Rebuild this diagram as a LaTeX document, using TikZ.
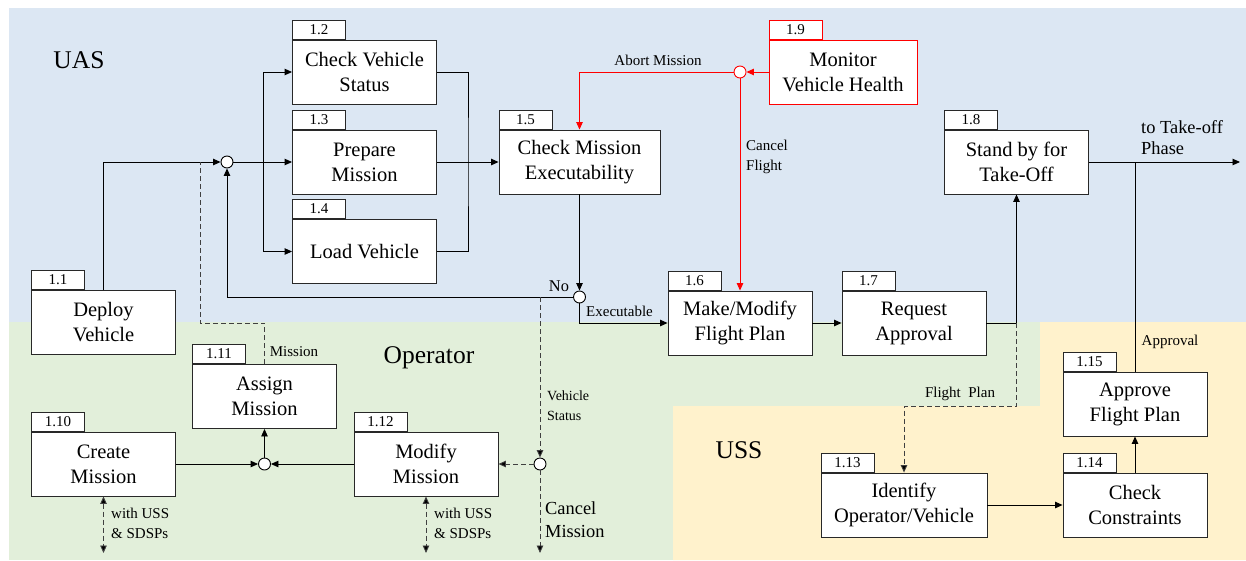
\documentclass[tikz,border=0pt]{standalone}
\usepackage{fontspec}
\setmainfont{Liberation Serif}
\usetikzlibrary{arrows.meta}

\definecolor{uasbg}{RGB}{220,231,243}
\definecolor{opbg}{RGB}{226,239,218}
\definecolor{ussbg}{RGB}{255,242,204}
\definecolor{edge}{RGB}{40,40,40}

\tikzset{
  fnbox/.style={draw=edge, fill=white, line width=0.9pt, inner sep=0pt,
    minimum width=144pt, minimum height=64pt, align=center,
    font=\fontsize{20.5}{25}\selectfont},
  numtab/.style={draw=edge, fill=white, line width=0.9pt, inner sep=0pt,
    minimum width=53pt, minimum height=19pt, anchor=south west,
    font=\fontsize{15}{15}\selectfont},
  junc/.style={circle, draw=black, fill=white, line width=0.9pt,
    inner sep=0pt, minimum size=12pt},
  tip/.style={-{Triangle[length=7.5pt,width=6.5pt]}},
  wire/.style={line width=0.9pt, draw=black},
  flow/.style={wire, tip},
  dwire/.style={line width=0.9pt, draw=black!75, dash pattern=on 5pt off 3pt},
  dflow/.style={dwire, -{Triangle[length=7.5pt,width=6.5pt,fill=black]}},
  dboth/.style={dwire, {Triangle[length=7.5pt,width=6.5pt,fill=black]}-{Triangle[length=7.5pt,width=6.5pt,fill=black]}},
  rflow/.style={line width=0.9pt, draw=red, -{Triangle[length=7.5pt,width=6.5pt]}},
  region/.style={inner sep=0pt, font=\fontsize{25.5}{30}\selectfont},
  lbl/.style={inner sep=0pt, font=\fontsize{15}{20}\selectfont, align=left},
  biglbl/.style={inner sep=0pt, font=\fontsize{18.4}{22}\selectfont, align=left},
}

\begin{document}
\begin{tikzpicture}[x=1pt, y=-1pt]
\useasboundingbox (0,0) rectangle (1246,560);

% swimlane backgrounds
\fill[uasbg] (9,8) rectangle (1246,322);
\fill[opbg] (9,322) rectangle (1246,560);
\fill[ussbg] (1040,322) -- (1246,322) -- (1246,560) -- (673,560)
  -- (673,406) -- (1040,406) -- cycle;

\node[region] (uas) at (79,60) {UAS};
\node[region] (oper) at (429,358) {Operator};
\node[region] (uss) at (739,450) {USS};

% function boxes
\node[fnbox] (n11) at (103.5,322.5) {Deploy\\Vehicle};
\node[fnbox] (n12) at (364.5,72) {Check Vehicle\\Status};
\node[fnbox] (n13) at (364.5,162) {Prepare\\Mission};
\node[fnbox] (n14) at (364.5,251.5) {Load Vehicle};
\node[fnbox, minimum width=161pt] (n15) at (579.5,162) {Check Mission\\Executability};
\node[fnbox] (n16) at (740,323) {Make/Modify\\Flight Plan};
\node[fnbox] (n17) at (914,323) {Request\\Approval};
\node[fnbox] (n18) at (1016.5,162) {Stand by for\\Take-Off};
\node[fnbox, draw=red, minimum width=148pt] (n19) at (843,72) {Monitor\\Vehicle Health};
\node[fnbox] (n110) at (103.5,464) {Create\\Mission};
\node[fnbox] (n111) at (264.5,396.5) {Assign\\Mission};
\node[fnbox] (n112) at (426,464) {Modify\\Mission};
\node[fnbox, minimum width=166pt] (n113) at (904,505) {Identify\\Operator/Vehicle};
\node[fnbox] (n114) at (1135,505) {Check\\Constraints};
\node[fnbox] (n115) at (1135,404) {Approve\\Flight Plan};

% number tabs
\node[numtab] (t11) at (n11.north west) {1.1};
\node[numtab] (t12) at (n12.north west) {1.2};
\node[numtab] (t13) at (n13.north west) {1.3};
\node[numtab] (t14) at (n14.north west) {1.4};
\node[numtab] (t15) at (n15.north west) {1.5};
\node[numtab] (t16) at (n16.north west) {1.6};
\node[numtab] (t17) at (n17.north west) {1.7};
\node[numtab] (t18) at (n18.north west) {1.8};
\node[numtab, draw=red] (t19) at (n19.north west) {1.9};
\node[numtab] (t110) at (n110.north west) {1.10};
\node[numtab] (t111) at (n111.north west) {1.11};
\node[numtab] (t112) at (n112.north west) {1.12};
\node[numtab] (t113) at (n113.north west) {1.13};
\node[numtab] (t114) at (n114.north west) {1.14};
\node[numtab] (t115) at (n115.north west) {1.15};

% junctions
\node[junc] (j1) at (227,162) {};
\node[junc] (j2) at (579.5,297) {};
\node[junc, draw=red] (j3) at (740,72) {};
\node[junc] (j4) at (540,464) {};
\node[junc] (j5) at (264.5,464) {};

% helper points
\coordinate (bus1) at (263,162);
\coordinate (bus2) at (468,162);
\coordinate (fp) at (1016.5,323);
\coordinate (fpc) at (904,406);
\coordinate (out) at (1240,162);
\coordinate (m1) at (200,323);
\coordinate (m2) at (200,162);
\coordinate (vs) at (540,297);
\coordinate (cm) at (540,553);
\coordinate (w1) at (103.5,553);
\coordinate (w2) at (426,553);

% UAS flow
\draw[flow] (n11.north) |- (j1.west);
\draw[flow] (j1.east) -- (n13.west);
\draw[flow] (bus1) |- (n12.west);
\draw[flow] (bus1) |- (n14.west);
\draw[wire] (n12.east) -| (bus2) |- (n14.east);
\draw[flow] (n13.east) -- (n15.west);
\draw[flow] (n15.south) -- (j2.north);
\draw[flow] (j2.west) -| (j1.south);
\draw[flow] (j2.south) |- (n16.west);
\draw[flow] (n16.east) -- (n17.west);
\draw[flow] (n17.east) -| (n18.south);
\draw[flow] (n18.east) -- (out);
\draw[wire] (n115.north) -- (n115.north |- n18.east);

% health monitoring
\draw[rflow] (n19.west) -- (j3.east);
\draw[rflow] (j3.west) -| (n15.north);
\draw[rflow] (j3.south) -- (n16.north);

% operator flow
\draw[dwire] (n111.north) |- (m1) -- (m2);
\draw[dflow] (vs) -- (j4.north);
\draw[dflow] (j4.west) -- (n112.east);
\draw[dflow] (j4.south) -- (cm);
\draw[flow] (n110.east) -- (j5.west);
\draw[flow] (n112.west) -- (j5.east);
\draw[flow] (j5.north) -- (n111.south);
\draw[dboth] (n110.south) -- (w1);
\draw[dboth] (n112.south) -- (w2);

% USS flow
\draw[dflow] (fp) |- (fpc) -- (n113.north);
\draw[flow] (n113.east) -- (n114.west);
\draw[flow] (n114.north) -- (n115.south);

% connector labels
\node[lbl] (abort) at (658,60) {Abort Mission};
\node[lbl, anchor=west] (cflight) at (746,157) {Cancel\\Flight};
\node[inner sep=0pt, font=\fontsize{16.4}{20}\selectfont] (no) at (559,286) {No};
\node[lbl] (exe) at (619.5,311) {Executable};
\node[lbl] (mis) at (294,352) {Mission};
\node[lbl, anchor=west, font=\fontsize{14}{20}\selectfont] (vstat) at (547,406) {Vehicle\\Status};
\node[biglbl, anchor=west, font=\fontsize{18.4}{23}\selectfont] (cmis) at (545,519.5) {Cancel\\Mission};
\node[lbl, anchor=west] (wu1) at (111,523) {with USS\\\& SDSPs};
\node[lbl, anchor=west] (wu2) at (434,523) {with USS\\\& SDSPs};
\node[lbl] (fplan) at (960,394) {Flight\ \ Plan};
\node[lbl] (appr) at (1170,342) {Approval};
\node[biglbl, anchor=west, font=\fontsize{18.4}{21}\selectfont] (tko) at (1141,137.5) {to Take-off\\Phase};
\end{tikzpicture}
\end{document}
